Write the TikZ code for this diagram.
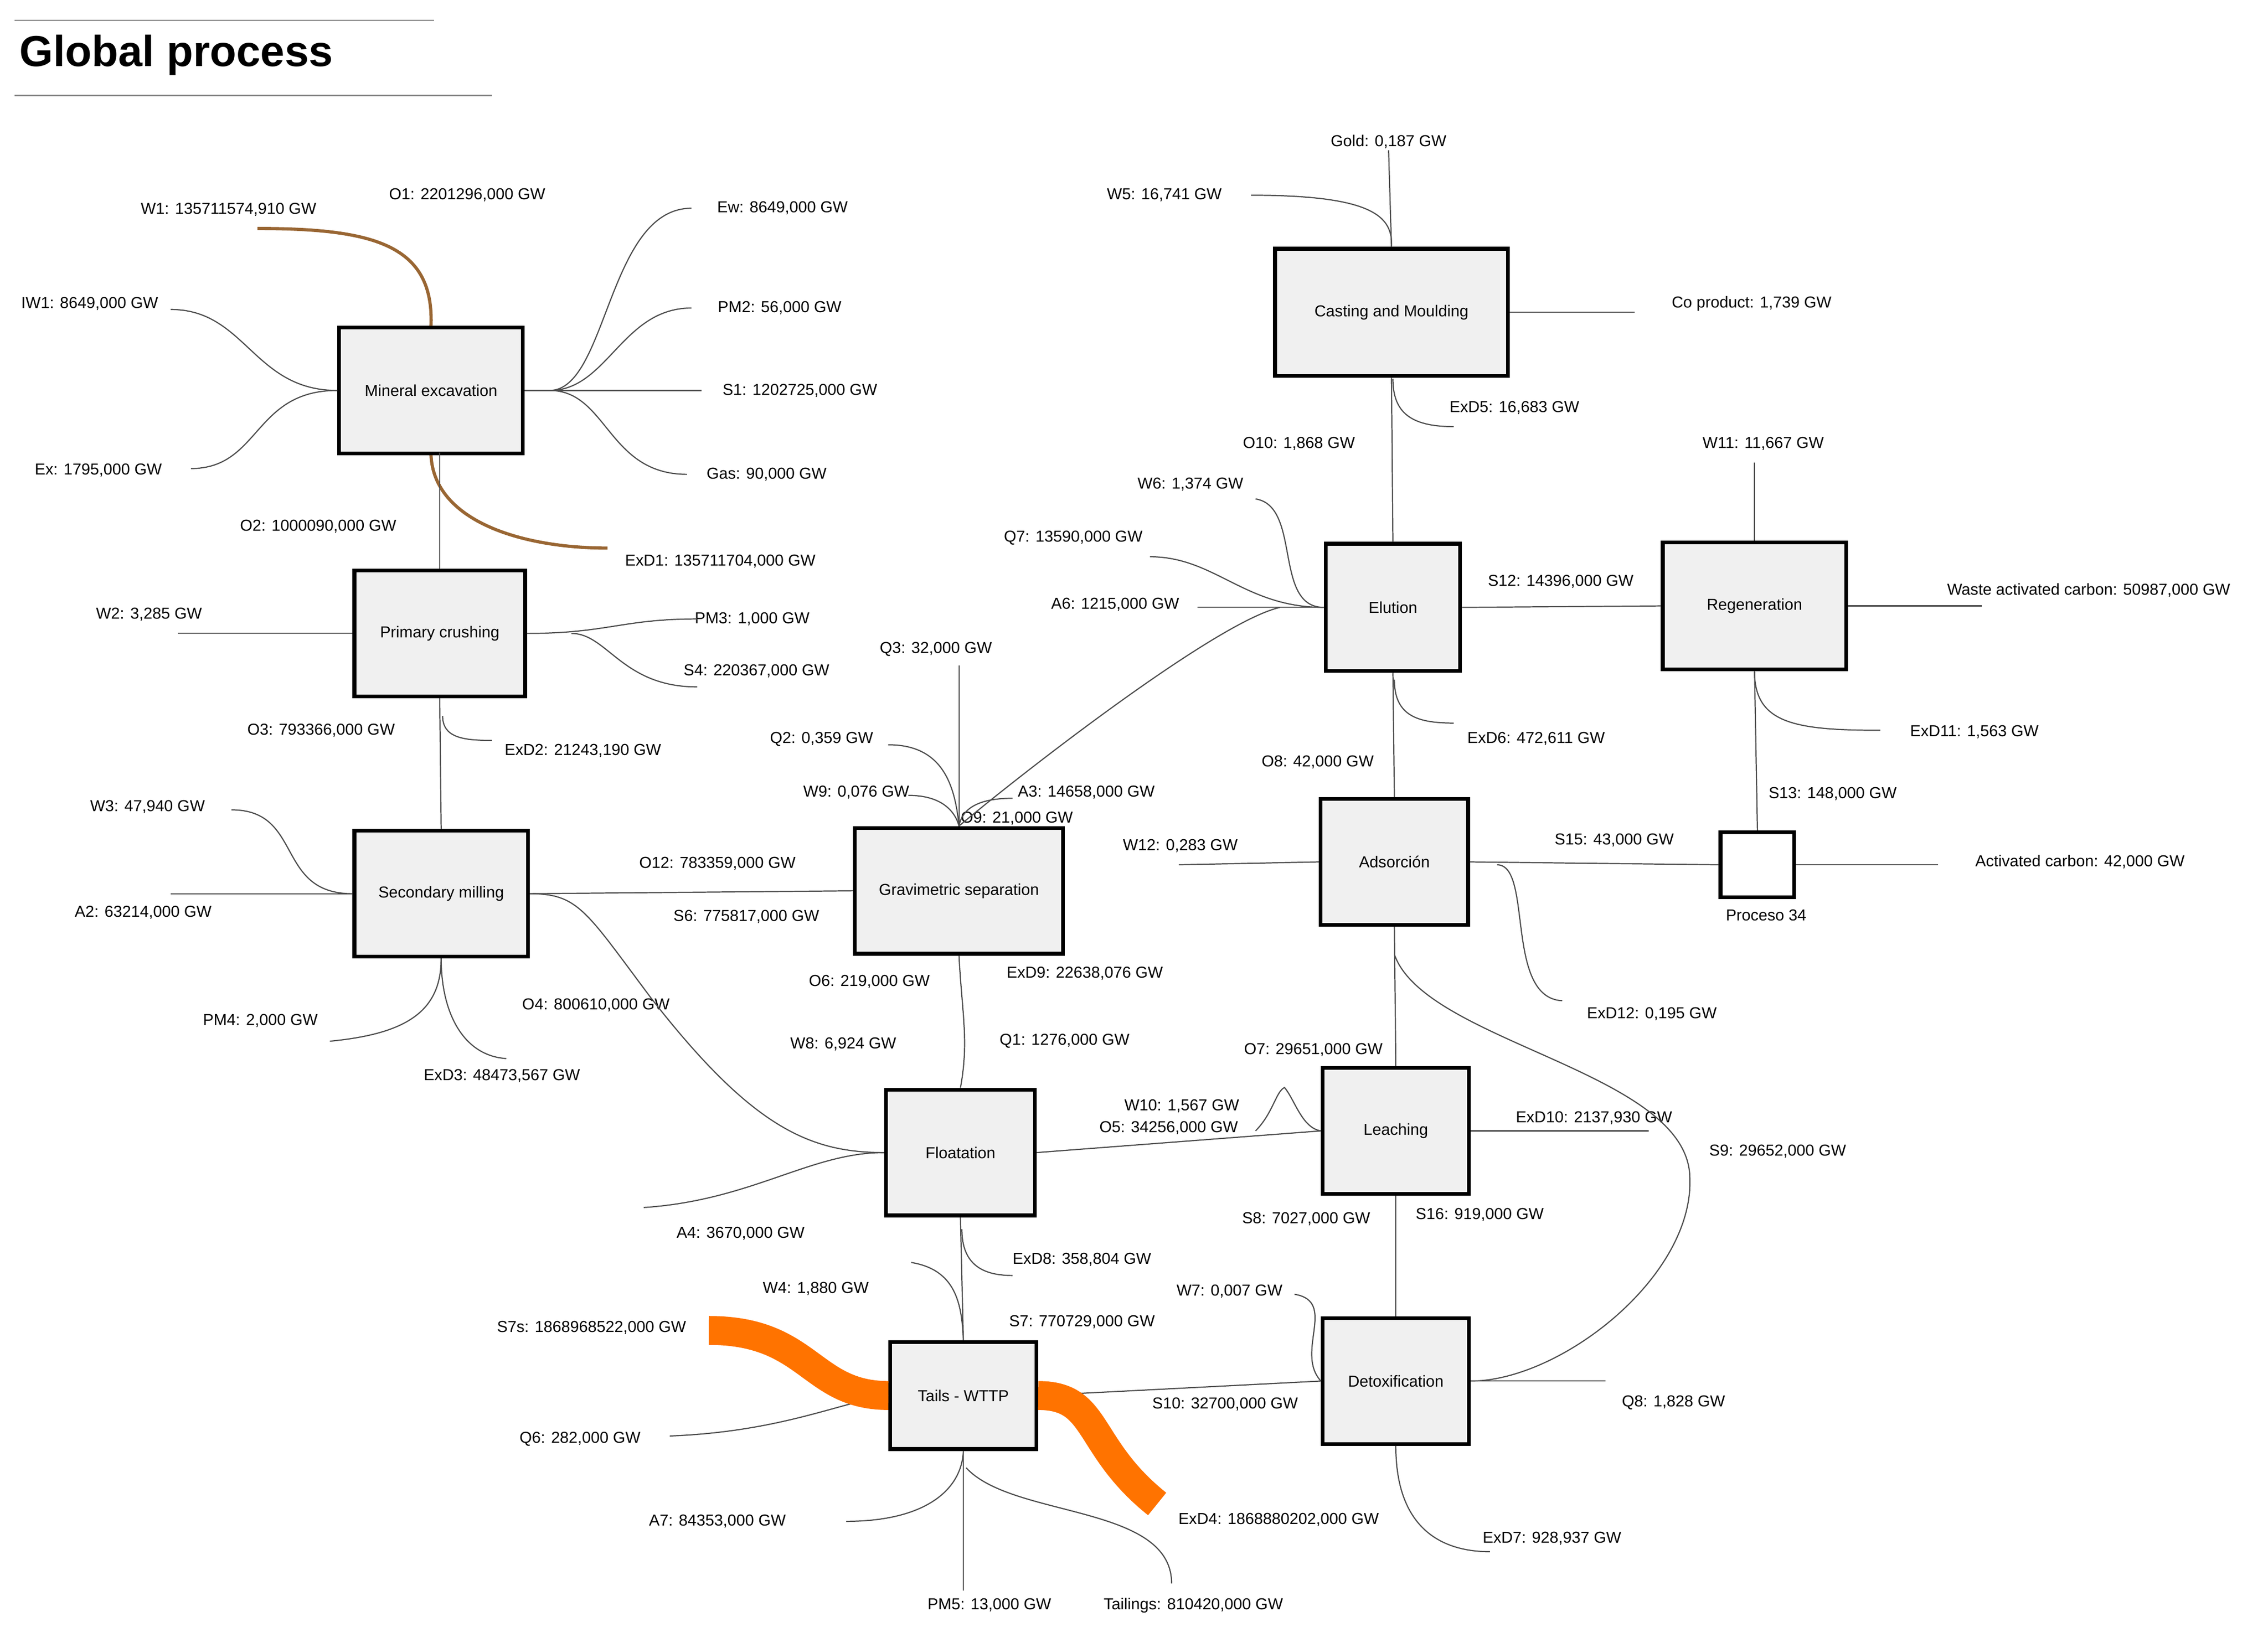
\documentclass[tikz,border=0pt]{standalone}
\usepackage{fontspec}
\setmainfont{Liberation Sans}
\begin{document}
\begin{tikzpicture}[x=1pt,y=-1pt,
 box/.style={draw=black,line width=2.6pt,fill=gray!12,font=\fontsize{11}{12}\selectfont,inner sep=0pt},
 lab/.style={font=\fontsize{11}{12}\selectfont,inner sep=1pt},
 ln/.style={draw=gray!60!black,line width=0.8pt},
 br/.style={draw=brown!80!black,line width=2.2pt},
 ob/.style={draw=orange!90!red,line width=20pt}]
\useasboundingbox (0,0) rectangle (1568,1125);
% title
\node[anchor=west,font=\fontsize{30}{32}\selectfont\bfseries] (title) at (10,38) {Global process};
\draw[gray,line width=0.8pt] (10,14) -- (300,14);
\draw[gray,line width=0.8pt] (10,66) -- (340,66);
% boxes
\node[box,minimum width=127,minimum height=87] (me) at (298,270) {Mineral excavation};
\node[box,minimum width=118,minimum height=87] (pc) at (304,438) {Primary crushing};
\node[box,minimum width=120,minimum height=87] (sm) at (305,618) {Secondary milling};
\node[box,minimum width=144,minimum height=87] (gs) at (663,616) {Gravimetric separation};
\node[box,minimum width=103,minimum height=87] (fl) at (664,797) {Floatation};
\node[box,minimum width=101,minimum height=74] (tw) at (666,965) {Tails - WTTP};
\node[box,minimum width=161,minimum height=88] (cm) at (962,216) {Casting and Moulding};
\node[box,minimum width=93,minimum height=88] (el) at (963,420) {Elution};
\node[box,minimum width=127,minimum height=88] (rg) at (1213,419) {Regeneration};
\node[box,minimum width=102,minimum height=87] (ad) at (964,596) {Adsorción};
\node[box,minimum width=51,minimum height=45,fill=white] (p34) at (1215,598) {};
\node[lab] (p34l) at (1221,633) {Proceso 34};
\node[box,minimum width=101,minimum height=87] (le) at (965,782) {Leaching};
\node[box,minimum width=101,minimum height=87] (dt) at (965,955) {Detoxification};
% labels
\foreach \n/\x/\y/\t in {
 w1/158/145/{W1: 135711574,910 GW}, o1/323/135/{O1: 2201296,000 GW},
 iw1/62/210/{IW1: 8649,000 GW}, ex/68/325/{Ex: 1795,000 GW},
 ew/541/144/{Ew: 8649,000 GW}, pm2/539/213/{PM2: 56,000 GW},
 s1/553/270/{S1: 1202725,000 GW}, gas/530/328/{Gas: 90,000 GW},
 o2/220/364/{O2: 1000090,000 GW}, exd1/498/388/{ExD1: 135711704,000 GW},
 w2/103/425/{W2: 3,285 GW}, pm3/520/428/{PM3: 1,000 GW}, s4/523/464/{S4: 220367,000 GW},
 o3/222/505/{O3: 793366,000 GW}, exd2/403/519/{ExD2: 21243,190 GW},
 w3/102/558/{W3: 47,940 GW}, a2/99/631/{A2: 63214,000 GW},
 o12/496/597/{O12: 783359,000 GW}, s6/516/634/{S6: 775817,000 GW},
 o4/412/695/{O4: 800610,000 GW}, pm4/180/706/{PM4: 2,000 GW}, exd3/347/744/{ExD3: 48473,567 GW},
 q3/647/449/{Q3: 32,000 GW}, q2/568/511/{Q2: 0,359 GW}, w9/592/548/{W9: 0,076 GW},
 a3/751/548/{A3: 14658,000 GW}, o9/703/566/{O9: 21,000 GW},
 exd9/750/673/{ExD9: 22638,076 GW}, o6/601/679/{O6: 219,000 GW},
 w8/583/722/{W8: 6,924 GW}, q1/736/720/{Q1: 1276,000 GW},
 w6/823/335/{W6: 1,374 GW}, q7/742/372/{Q7: 13590,000 GW}, a6/771/418/{A6: 1215,000 GW},
 s12/1079/402/{S12: 14396,000 GW}, o10/898/307/{O10: 1,868 GW}, exd5/1047/282/{ExD5: 16,683 GW},
 o8/911/527/{O8: 42,000 GW}, exd6/1062/511/{ExD6: 472,611 GW},
 gold/960/98/{Gold: 0,187 GW}, w5/805/135/{W5: 16,741 GW}, cop/1211/210/{Co product: 1,739 GW},
 w11/1219/307/{W11: 11,667 GW}, wac/1444/408/{Waste activated carbon: 50987,000 GW},
 exd11/1365/506/{ExD11: 1,563 GW}, s13/1267/549/{S13: 148,000 GW},
 w12/816/585/{W12: 0,283 GW}, s15/1116/581/{S15: 43,000 GW}, exd12/1142/701/{ExD12: 0,195 GW},
 ac/1438/596/{Activated carbon: 42,000 GW}, o7/908/726/{O7: 29651,000 GW},
 s9/1229/796/{S9: 29652,000 GW}, w10/817/765/{W10: 1,567 GW}, o5/808/780/{O5: 34256,000 GW},
 exd10/1102/773/{ExD10: 2137,930 GW}, s8/903/843/{S8: 7027,000 GW}, s16/1023/840/{S16: 919,000 GW},
 w7/850/893/{W7: 0,007 GW}, s10/847/971/{S10: 32700,000 GW}, q8/1157/970/{Q8: 1,828 GW},
 exd7/1073/1064/{ExD7: 928,937 GW}, a4/512/853/{A4: 3670,000 GW}, exd8/748/871/{ExD8: 358,804 GW},
 w4/564/891/{W4: 1,880 GW}, s7/748/914/{S7: 770729,000 GW}, s7s/409/918/{S7s: 1868968522,000 GW},
 q6/401/995/{Q6: 282,000 GW}, a7/496/1052/{A7: 84353,000 GW}, pm5/684/1110/{PM5: 13,000 GW},
 tail/825/1110/{Tailings: 810420,000 GW}, exd4/884/1051/{ExD4: 1868880202,000 GW}}
 {\node[lab] (\n) at (\x,\y) {\t};}
% Mineral excavation
\draw[br] (178,158) .. controls (260,158) and (300,170) .. (me.north);
\draw[br] (me.south) .. controls (300,360) and (360,379) .. (420,379);
\draw[ln] (118,214) .. controls (170,214) and (175,270) .. (me.west);
\draw[ln] (132,324) .. controls (180,324) and (175,270) .. (me.west);
\draw[ln] (478,144) .. controls (420,144) and (420,270) .. (380,270);
\draw[ln] (478,213) .. controls (430,213) and (420,270) .. (380,270);
\draw[ln] (485,270) -- (me.east);
\draw[ln] (475,328) .. controls (420,328) and (420,270) .. (380,270);
\draw[ln] (304,313) -- (pc.north);
% Primary crushing
\draw[ln] (123,438) -- (pc.west);
\draw[ln] (482,428) .. controls (430,428) and (420,438) .. (pc.east);
\draw[ln] (482,475) .. controls (430,475) and (420,438) .. (395,438);
\draw[ln] (pc.south) -- (sm.north);
\draw[ln] (306,495) .. controls (306,510) and (320,512) .. (340,512);
% Secondary milling
\draw[ln] (160,560) .. controls (210,560) and (190,618) .. (sm.west);
\draw[ln] (118,618) -- (sm.west);
\draw[ln] (sm.east) -- (gs.west);
\draw[ln] (sm.east) .. controls (400,618) and (405,630) .. (450,690) .. controls (520,780) and (560,797) .. (fl.west);
\draw[ln] (228,720) .. controls (280,715) and (305,700) .. (sm.south);
\draw[ln] (sm.south) .. controls (305,700) and (320,730) .. (350,732);
% Gravimetric
\draw[ln] (663,460) -- (gs.north);
\draw[ln] (614,515) .. controls (650,515) and (660,540) .. (gs.north);
\draw[ln] (628,550) .. controls (650,550) and (660,560) .. (gs.north);
\draw[ln] (700,552) .. controls (675,552) and (665,560) .. (gs.north);
\draw[ln] (gs.north) .. controls (700,540) and (840,430) .. (885,420);
\draw[ln] (gs.south) .. controls (665,700) and (670,720) .. (fl.north);
% Elution
\draw[ln] (868,345) .. controls (900,350) and (880,420) .. (el.west);
\draw[ln] (795,385) .. controls (840,385) and (860,420) .. (el.west);
\draw[ln] (828,420) -- (el.west);
\draw[ln] (el.east) -- (rg.west);
\draw[ln] (gold.south) -- (cm.north);
\draw[ln] (865,135) .. controls (950,135) and (963,150) .. (cm.north);
\draw[ln] (cm.east) -- (1130,216);
\draw[ln] (cm.south) -- (el.north);
\draw[ln] (963,262) .. controls (963,285) and (975,295) .. (1005,295);
\draw[ln] (el.south) -- (ad.north);
\draw[ln] (964,470) .. controls (964,495) and (980,500) .. (1005,500);
% Regeneration
\draw[ln] (1213,320) -- (rg.north);
\draw[ln] (rg.east) -- (1370,419);
\draw[ln] (rg.south) .. controls (1213,500) and (1240,505) .. (1300,505);
\draw[ln] (rg.south) -- (p34.north);
\draw[ln] (p34.east) -- (1340,598);
% Adsorcion
\draw[ln] (815,598) -- (ad.west);
\draw[ln] (ad.east) -- (p34.west);
\draw[ln] (1035,598) .. controls (1060,598) and (1040,690) .. (1080,692);
\draw[ln] (ad.south) -- (le.north);
\draw[ln] (964,660) .. controls (985,720) and (1160,740) .. (1168,810) .. controls (1175,880) and (1080,955) .. (dt.east);
% Leaching
\draw[ln] (fl.east) -- (le.west);
\draw[ln] (868,782) .. controls (880,770) and (882,755) .. (888,752) .. controls (895,760) and (900,780) .. (le.west);
\draw[ln] (le.east) -- (1140,782);
\draw[ln] (le.south) -- (dt.north);
% Detox
\draw[ln] (895,895) .. controls (925,900) and (895,935) .. (dt.west);
\draw[ln] (tw.east) -- (dt.west);
\draw[ln] (dt.east) -- (1110,955);
\draw[ln] (dt.south) .. controls (965,1060) and (1000,1073) .. (1030,1073);
% Floatation
\draw[ln] (445,835) .. controls (520,830) and (560,797) .. (fl.west);
\draw[ln] (fl.south) -- (tw.north);
\draw[ln] (665,850) .. controls (665,875) and (680,882) .. (700,882);
\draw[ln] (630,873) .. controls (660,878) and (665,900) .. (tw.north);
% Tails
\draw[ln] (463,993) .. controls (540,990) and (580,970) .. (tw.west);
\draw[ln] (585,1052) .. controls (640,1052) and (665,1030) .. (tw.south);
\draw[ln] (tw.south) -- (666,1100);
\draw[ln] (668,1015) .. controls (700,1050) and (810,1040) .. (810,1095);
\draw[ob] (490,920) .. controls (560,920) and (560,965) .. (tw.west);
\draw[ob] (tw.east) .. controls (760,965) and (750,1000) .. (800,1040);
\end{tikzpicture}
\end{document}
